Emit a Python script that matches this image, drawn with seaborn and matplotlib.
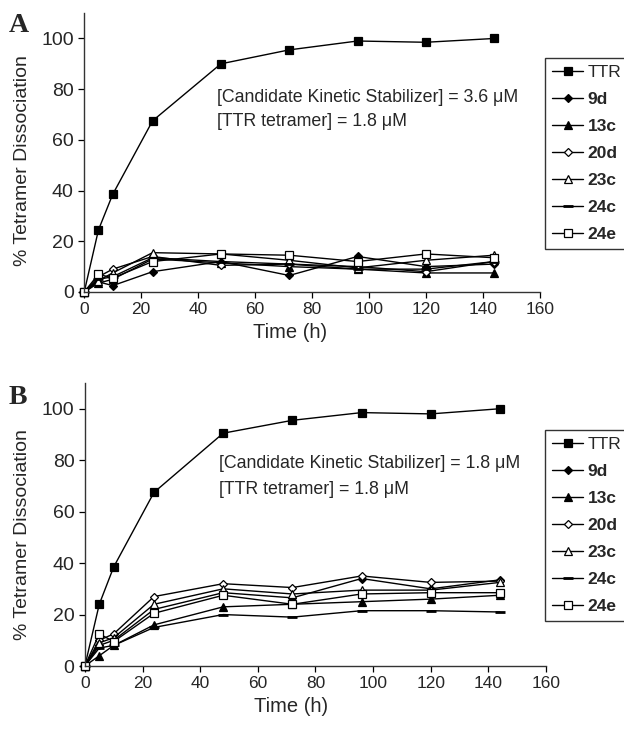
import numpy as np
import pandas as pd
import matplotlib
matplotlib.use("Agg")
import matplotlib.pyplot as plt
import seaborn as sns

# sampling times (h)
time_h = [0, 5, 10, 24, 48, 72, 96, 120, 144]
compounds = ["TTR", "9d", "13c", "20d", "23c", "24c", "24e"]

# panel A: stabilizer 3.6 uM
a_ttr = [0, 24.5, 38.5, 67.5, 90, 95.5, 99, 98.5, 100]
a_9d = [0, 4, 2.5, 8, 12, 6.5, 14, 10, 11]
a_13c = [0, 3.5, 5, 13, 11.5, 10, 9, 7.5, 7.5]
a_20d = [0, 6, 9, 14, 10.5, 11, 10, 8, 12]
a_23c = [0, 4.5, 7.5, 15.5, 15, 12.5, 9.5, 12.5, 14.5]
a_24c = [0, 5, 6, 13.5, 12, 11, 9, 9, 12]
a_24e = [0, 7, 5.5, 12, 15, 14.5, 12, 15, 13.5]

# panel B: stabilizer 1.8 uM
b_ttr = [0, 24, 38.5, 67.5, 90.5, 95.5, 98.5, 98, 100]
b_9d = [0, 8, 10, 22, 28.5, 26.5, 34, 30, 33.5]
b_13c = [0, 4, 8, 16, 23, 24, 25, 26, 27.5]
b_20d = [0, 10, 12.5, 27, 32, 30.5, 35, 32.5, 33]
b_23c = [0, 9, 11, 24, 30, 28, 29.5, 29.5, 32.5]
b_24c = [0, 7, 8, 15, 20, 19, 21.5, 21.5, 21]
b_24e = [0, 12.5, 9.5, 20.5, 27.5, 24, 28, 28.5, 28.5]

panel_a = dict(zip(compounds, [a_ttr, a_9d, a_13c, a_20d, a_23c, a_24c, a_24e]))
panel_b = dict(zip(compounds, [b_ttr, b_9d, b_13c, b_20d, b_23c, b_24c, b_24e]))

styles = {
    "TTR": dict(marker="s", mfc="black", ms=5.5),
    "9d": dict(marker="D", mfc="black", ms=4.5),
    "13c": dict(marker="^", mfc="black", ms=6),
    "20d": dict(marker="D", mfc="white", ms=4.5),
    "23c": dict(marker="^", mfc="white", ms=6),
    "24c": dict(marker="_", mfc="black", ms=7, mew=2),
    "24e": dict(marker="s", mfc="white", ms=5.5),
}

sns.set_style("ticks")
plt.rcParams["font.family"] = ["Liberation Sans", "DejaVu Sans"]

fig = plt.figure(figsize=(6.24, 7.29), dpi=100)
ax_a = fig.add_axes([0.135, 0.5995, 0.73, 0.3825])
ax_b = fig.add_axes([0.136, 0.0864, 0.739, 0.3882])


def draw_panel(ax, data, conc, letter, leg_top, txt_y, letter_y, xl_x, yl_y):
    handles = []
    for name in compounds:
        df = pd.DataFrame({"time": time_h, "pct": data[name]})
        st = styles[name]
        sns.lineplot(data=df, x="time", y="pct", ax=ax, color="black",
                     lw=1.0, marker=st["marker"], markersize=st["ms"],
                     markerfacecolor=st["mfc"], markeredgecolor="black",
                     markeredgewidth=st.get("mew", 0.9), label=name,
                     legend=False, clip_on=False)
        handles.append(ax.lines[-1])
    ax.set_xlim(0, 160)
    ax.set_ylim(0, 110)
    ax.set_xticks(range(0, 161, 20))
    ax.set_yticks(range(0, 101, 20))
    ax.tick_params(axis="x", labelsize=12.5)
    ax.tick_params(axis="y", labelsize=14)
    ax.tick_params(length=4, width=0.9, color="black", direction="out")
    ax.set_xlabel("Time (h)", fontsize=14.5, labelpad=5)
    ax.xaxis.set_label_coords(xl_x, -0.11)
    ax.set_ylabel("% Tetramer Dissociation", fontsize=14, labelpad=5)
    ax.yaxis.set_label_coords(-0.116, yl_y)
    sns.despine(ax=ax)
    for sp in ("left", "bottom"):
        ax.spines[sp].set_color("#333333")
        ax.spines[sp].set_linewidth(1.0)
    ax.text(46.7, txt_y[0], "[Candidate Kinetic Stabilizer] = %s \u03bcM" % conc,
            fontsize=12.8, va="center")
    ax.text(46.7, txt_y[1], "[TTR tetramer] = 1.8 \u03bcM", fontsize=12.8, va="center")
    fig.text(0.014, letter_y, letter, fontsize=20,
             fontweight="bold", family="Liberation Serif", va="top")
    leg = fig.legend(handles, compounds, loc="upper left",
                     bbox_to_anchor=(545 / 624, leg_top), frameon=True,
                     fancybox=False, edgecolor="black", fontsize=12.5,
                     handlelength=1.8, handletextpad=0.25, labelspacing=0.68,
                     borderpad=0.4, borderaxespad=0)
    leg.get_frame().set_linewidth(1.0)
    for i, t in enumerate(leg.get_texts()):
        if i > 0:
            t.set_fontweight("bold")


draw_panel(ax_a, panel_a, "3.6", "A", 1 - 58 / 729, (76.8, 67.3), 1 - 13 / 729, 0.452, 0.473)
draw_panel(ax_b, panel_b, "1.8", "B", 1 - 430 / 729, (78.7, 68.6), 1 - 385 / 729, 0.447, 0.463)

fig.savefig("out.png", dpi=100)
